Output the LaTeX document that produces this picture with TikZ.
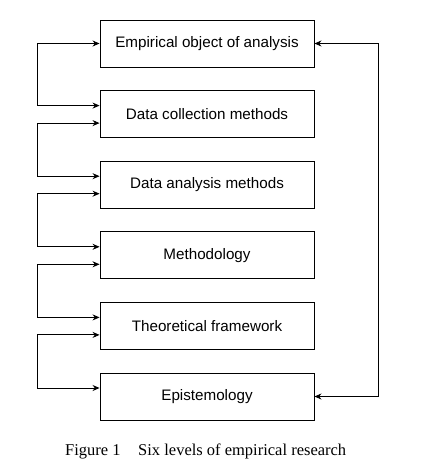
\documentclass[tikz,border=0pt]{standalone}
\usepackage{fontspec}
\setmainfont{Liberation Serif}
\newfontfamily\boxfont{Liberation Sans}
\usetikzlibrary{arrows.meta}
\begin{document}
\begin{tikzpicture}[x=1pt,y=-1pt,
  levelbox/.style={draw=black,line width=0.9pt,minimum width=214pt,minimum height=47pt,inner sep=0pt,
    font=\boxfont\fontsize{15.2}{18}\selectfont},
  link/.style={line width=0.9pt,{Stealth[length=7pt,width=6pt]}-{Stealth[length=7pt,width=6pt]}},
  captxt/.style={anchor=base west,inner sep=0pt,font=\fontsize{16.5}{20}\selectfont}]
\useasboundingbox (0,0) rectangle (422,465);
\node[levelbox] (b1) at (207,43.5) {Empirical object of analysis};
\node[levelbox] (b2) at (207,114.1) {Data collection methods};
\node[levelbox] (b3) at (207,184.7) {Data analysis methods};
\node[levelbox] (b4) at (207,255.3) {Methodology};
\node[levelbox] (b5) at (207,325.9) {Theoretical framework};
\node[levelbox] (b6) at (207,396.5) {Epistemology};
\def\lx{37}
\draw[link] (b1.west) -- (\lx,43.5) |- ([yshift=8.5pt]b2.west);
\draw[link] ([yshift=-9pt]b2.west) -- (\lx,123.1) |- ([yshift=8.5pt]b3.west);
\draw[link] ([yshift=-9pt]b3.west) -- (\lx,193.7) |- ([yshift=8.5pt]b4.west);
\draw[link] ([yshift=-9pt]b4.west) -- (\lx,264.3) |- ([yshift=8.5pt]b5.west);
\draw[link] ([yshift=-9pt]b5.west) -- (\lx,334.9) |- ([yshift=8.5pt]b6.west);
\draw[link] (b1.east) -- (378,43.5) |- (b6.east);
\node[captxt] (cap1) at (65,455) {Figure 1};
\node[captxt] (cap2) at (138,455) {Six levels of empirical research};
\end{tikzpicture}
\end{document}
